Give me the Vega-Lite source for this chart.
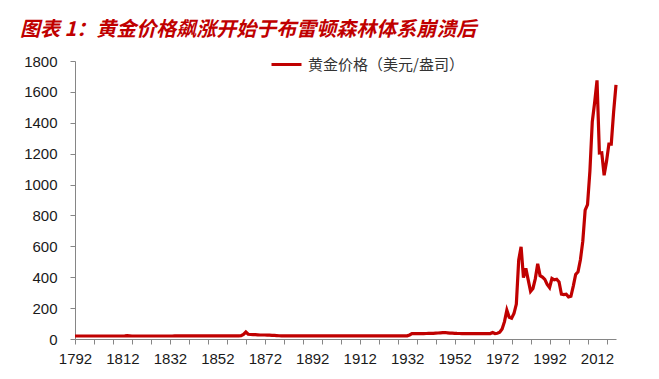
{
  "$schema": "https://vega.github.io/schema/vega-lite/v6.json",
  "width": 541,
  "height": 278,
  "autosize": {"type": "none"},
  "padding": {"left": 75, "top": 61, "right": 43, "bottom": 40},
  "background": "white",
  "title": {
    "text": "图表 1：黄金价格飙涨开始于布雷顿森林体系崩溃后",
    "anchor": "start",
    "frame": "group",
    "font": "Noto Sans CJK SC",
    "fontSize": 20,
    "fontStyle": "italic",
    "fontWeight": "bold",
    "color": "#C00000",
    "dx": -55,
    "offset": 8
  },
  "config": {
    "view": {"stroke": null},
    "axis": {
      "grid": false,
      "title": null,
      "domainColor": "#868686",
      "tickColor": "#868686",
      "labelFont": "Liberation Sans",
      "labelFontSize": 15,
      "labelColor": "#1a1a1a"
    }
  },
  "data": {
    "values": [
      {"year": 1792, "price": 19.39}, {"year": 1793, "price": 19.39}, {"year": 1794, "price": 19.39}, {"year": 1795, "price": 19.39},
      {"year": 1796, "price": 19.39}, {"year": 1797, "price": 19.39}, {"year": 1798, "price": 19.39}, {"year": 1799, "price": 19.39},
      {"year": 1800, "price": 19.39}, {"year": 1801, "price": 19.39}, {"year": 1802, "price": 19.39}, {"year": 1803, "price": 19.39},
      {"year": 1804, "price": 19.39}, {"year": 1805, "price": 19.39}, {"year": 1806, "price": 19.39}, {"year": 1807, "price": 19.39},
      {"year": 1808, "price": 19.39}, {"year": 1809, "price": 19.39}, {"year": 1810, "price": 19.39}, {"year": 1811, "price": 19.39},
      {"year": 1812, "price": 19.39}, {"year": 1813, "price": 19.8}, {"year": 1814, "price": 21.5}, {"year": 1815, "price": 20.5},
      {"year": 1816, "price": 19.39}, {"year": 1817, "price": 19.39}, {"year": 1818, "price": 19.39}, {"year": 1819, "price": 19.39},
      {"year": 1820, "price": 19.39}, {"year": 1821, "price": 19.39}, {"year": 1822, "price": 19.39}, {"year": 1823, "price": 19.39},
      {"year": 1824, "price": 19.39}, {"year": 1825, "price": 19.39}, {"year": 1826, "price": 19.39}, {"year": 1827, "price": 19.39},
      {"year": 1828, "price": 19.39}, {"year": 1829, "price": 19.39}, {"year": 1830, "price": 19.39}, {"year": 1831, "price": 19.39},
      {"year": 1832, "price": 19.39}, {"year": 1833, "price": 19.39}, {"year": 1834, "price": 20.67}, {"year": 1835, "price": 20.67},
      {"year": 1836, "price": 20.67}, {"year": 1837, "price": 20.67}, {"year": 1838, "price": 20.67}, {"year": 1839, "price": 20.67},
      {"year": 1840, "price": 20.67}, {"year": 1841, "price": 20.67}, {"year": 1842, "price": 20.67}, {"year": 1843, "price": 20.67},
      {"year": 1844, "price": 20.67}, {"year": 1845, "price": 20.67}, {"year": 1846, "price": 20.67}, {"year": 1847, "price": 20.67},
      {"year": 1848, "price": 20.67}, {"year": 1849, "price": 20.67}, {"year": 1850, "price": 20.67}, {"year": 1851, "price": 20.67},
      {"year": 1852, "price": 20.67}, {"year": 1853, "price": 20.67}, {"year": 1854, "price": 20.67}, {"year": 1855, "price": 20.67},
      {"year": 1856, "price": 20.67}, {"year": 1857, "price": 20.67}, {"year": 1858, "price": 20.67}, {"year": 1859, "price": 20.67},
      {"year": 1860, "price": 20.67}, {"year": 1861, "price": 20.67}, {"year": 1862, "price": 21.5}, {"year": 1863, "price": 30},
      {"year": 1864, "price": 45}, {"year": 1865, "price": 31}, {"year": 1866, "price": 29}, {"year": 1867, "price": 28},
      {"year": 1868, "price": 28}, {"year": 1869, "price": 27}, {"year": 1870, "price": 26}, {"year": 1871, "price": 26},
      {"year": 1872, "price": 26}, {"year": 1873, "price": 25}, {"year": 1874, "price": 25}, {"year": 1875, "price": 24},
      {"year": 1876, "price": 23}, {"year": 1877, "price": 22}, {"year": 1878, "price": 21}, {"year": 1879, "price": 20.67},
      {"year": 1880, "price": 20.67}, {"year": 1881, "price": 20.67}, {"year": 1882, "price": 20.67}, {"year": 1883, "price": 20.67},
      {"year": 1884, "price": 20.67}, {"year": 1885, "price": 20.67}, {"year": 1886, "price": 20.67}, {"year": 1887, "price": 20.67},
      {"year": 1888, "price": 20.67}, {"year": 1889, "price": 20.67}, {"year": 1890, "price": 20.67}, {"year": 1891, "price": 20.67},
      {"year": 1892, "price": 20.67}, {"year": 1893, "price": 20.67}, {"year": 1894, "price": 20.67}, {"year": 1895, "price": 20.67},
      {"year": 1896, "price": 20.67}, {"year": 1897, "price": 20.67}, {"year": 1898, "price": 20.67}, {"year": 1899, "price": 20.67},
      {"year": 1900, "price": 20.67}, {"year": 1901, "price": 20.67}, {"year": 1902, "price": 20.67}, {"year": 1903, "price": 20.67},
      {"year": 1904, "price": 20.67}, {"year": 1905, "price": 20.67}, {"year": 1906, "price": 20.67}, {"year": 1907, "price": 20.67},
      {"year": 1908, "price": 20.67}, {"year": 1909, "price": 20.67}, {"year": 1910, "price": 20.67}, {"year": 1911, "price": 20.67},
      {"year": 1912, "price": 20.67}, {"year": 1913, "price": 20.67}, {"year": 1914, "price": 20.67}, {"year": 1915, "price": 20.67},
      {"year": 1916, "price": 20.67}, {"year": 1917, "price": 20.67}, {"year": 1918, "price": 20.67}, {"year": 1919, "price": 20.67},
      {"year": 1920, "price": 20.67}, {"year": 1921, "price": 20.67}, {"year": 1922, "price": 20.67}, {"year": 1923, "price": 20.67},
      {"year": 1924, "price": 20.67}, {"year": 1925, "price": 20.67}, {"year": 1926, "price": 20.67}, {"year": 1927, "price": 20.67},
      {"year": 1928, "price": 20.67}, {"year": 1929, "price": 20.67}, {"year": 1930, "price": 20.67}, {"year": 1931, "price": 20.67},
      {"year": 1932, "price": 20.67}, {"year": 1933, "price": 26.3}, {"year": 1934, "price": 35}, {"year": 1935, "price": 35},
      {"year": 1936, "price": 35}, {"year": 1937, "price": 35}, {"year": 1938, "price": 35}, {"year": 1939, "price": 35},
      {"year": 1940, "price": 35.5}, {"year": 1941, "price": 36}, {"year": 1942, "price": 36.5}, {"year": 1943, "price": 37},
      {"year": 1944, "price": 38}, {"year": 1945, "price": 39}, {"year": 1946, "price": 40}, {"year": 1947, "price": 41},
      {"year": 1948, "price": 42}, {"year": 1949, "price": 40}, {"year": 1950, "price": 38}, {"year": 1951, "price": 37.5},
      {"year": 1952, "price": 37}, {"year": 1953, "price": 36}, {"year": 1954, "price": 35.5}, {"year": 1955, "price": 35.2},
      {"year": 1956, "price": 35.2}, {"year": 1957, "price": 35.2}, {"year": 1958, "price": 35.2}, {"year": 1959, "price": 35.2},
      {"year": 1960, "price": 35.2}, {"year": 1961, "price": 35.2}, {"year": 1962, "price": 35.2}, {"year": 1963, "price": 35.2},
      {"year": 1964, "price": 35.2}, {"year": 1965, "price": 35.2}, {"year": 1966, "price": 35.2}, {"year": 1967, "price": 35.2},
      {"year": 1968, "price": 41.9}, {"year": 1969, "price": 35.2}, {"year": 1970, "price": 37.4}, {"year": 1971, "price": 43.5},
      {"year": 1972, "price": 64.9}, {"year": 1973, "price": 112.3}, {"year": 1974, "price": 186.5}, {"year": 1975, "price": 140.3},
      {"year": 1976, "price": 134.5}, {"year": 1977, "price": 165}, {"year": 1978, "price": 226}, {"year": 1979, "price": 512},
      {"year": 1980, "price": 597}, {"year": 1981, "price": 397.5}, {"year": 1982, "price": 456.9}, {"year": 1983, "price": 382.4},
      {"year": 1984, "price": 308.3}, {"year": 1985, "price": 327}, {"year": 1986, "price": 390.9}, {"year": 1987, "price": 486.5},
      {"year": 1988, "price": 410.3}, {"year": 1989, "price": 401}, {"year": 1990, "price": 386.2}, {"year": 1991, "price": 353.2},
      {"year": 1992, "price": 333}, {"year": 1993, "price": 391.8}, {"year": 1994, "price": 383.3}, {"year": 1995, "price": 387},
      {"year": 1996, "price": 369.3}, {"year": 1997, "price": 290.2}, {"year": 1998, "price": 287.8}, {"year": 1999, "price": 290.3},
      {"year": 2000, "price": 272.7}, {"year": 2001, "price": 276.5}, {"year": 2002, "price": 342.8}, {"year": 2003, "price": 417.3},
      {"year": 2004, "price": 435.6}, {"year": 2005, "price": 513}, {"year": 2006, "price": 632}, {"year": 2007, "price": 833.8},
      {"year": 2008, "price": 869.8}, {"year": 2009, "price": 1087.5}, {"year": 2010, "price": 1405.5}, {"year": 2011, "price": 1531},
      {"year": 2012, "price": 1675}, {"year": 2013, "price": 1204.5}, {"year": 2014, "price": 1206}, {"year": 2015, "price": 1060},
      {"year": 2016, "price": 1150}, {"year": 2017, "price": 1262}, {"year": 2018, "price": 1262}, {"year": 2019, "price": 1470},
      {"year": 2020, "price": 1645}
    ]
  },
  "mark": {"type": "line", "strokeWidth": 3.2},
  "encoding": {
    "x": {
      "field": "year",
      "type": "quantitative",
      "scale": {"domain": [1792, 2020], "nice": false, "zero": false},
      "axis": {
        "values": [1792, 1796, 1800, 1804, 1808, 1812, 1816, 1820, 1824, 1828, 1832, 1836, 1840, 1844, 1848, 1852, 1856, 1860, 1864, 1868, 1872, 1876, 1880, 1884, 1888, 1892, 1896, 1900, 1904, 1908, 1912, 1916, 1920, 1924, 1928, 1932, 1936, 1940, 1944, 1948, 1952, 1956, 1960, 1964, 1968, 1972, 1976, 1980, 1984, 1988, 1992, 1996, 2000, 2004, 2008, 2012, 2016],
        "labelExpr": "(datum.value - 1792) % 20 === 0 ? '' + datum.value : ''",
        "tickOpacity": {"condition": {"test": "datum.value % 8 === 0", "value": 1}, "value": 0},
        "tickSize": 5,
        "labelPadding": 7,
        "labelOverlap": false,
        "labelFlush": false
      }
    },
    "y": {
      "field": "price",
      "type": "quantitative",
      "scale": {"domain": [0, 1800], "nice": false},
      "axis": {
        "values": [0, 200, 400, 600, 800, 1000, 1200, 1400, 1600, 1800],
        "format": "d",
        "tickSize": 5,
        "labelPadding": 13
      }
    },
    "color": {
      "datum": "黄金价格（美元/盎司）",
      "scale": {"range": ["#C00000"]},
      "legend": {
        "title": null,
        "orient": "none",
        "legendX": 195,
        "legendY": -13,
        "padding": 0,
        "symbolType": "stroke",
        "symbolSize": 900,
        "symbolStrokeWidth": 3,
        "labelFont": "Noto Sans CJK SC",
        "labelFontSize": 15,
        "labelColor": "#333333",
        "labelOffset": 5
      }
    }
  }
}
